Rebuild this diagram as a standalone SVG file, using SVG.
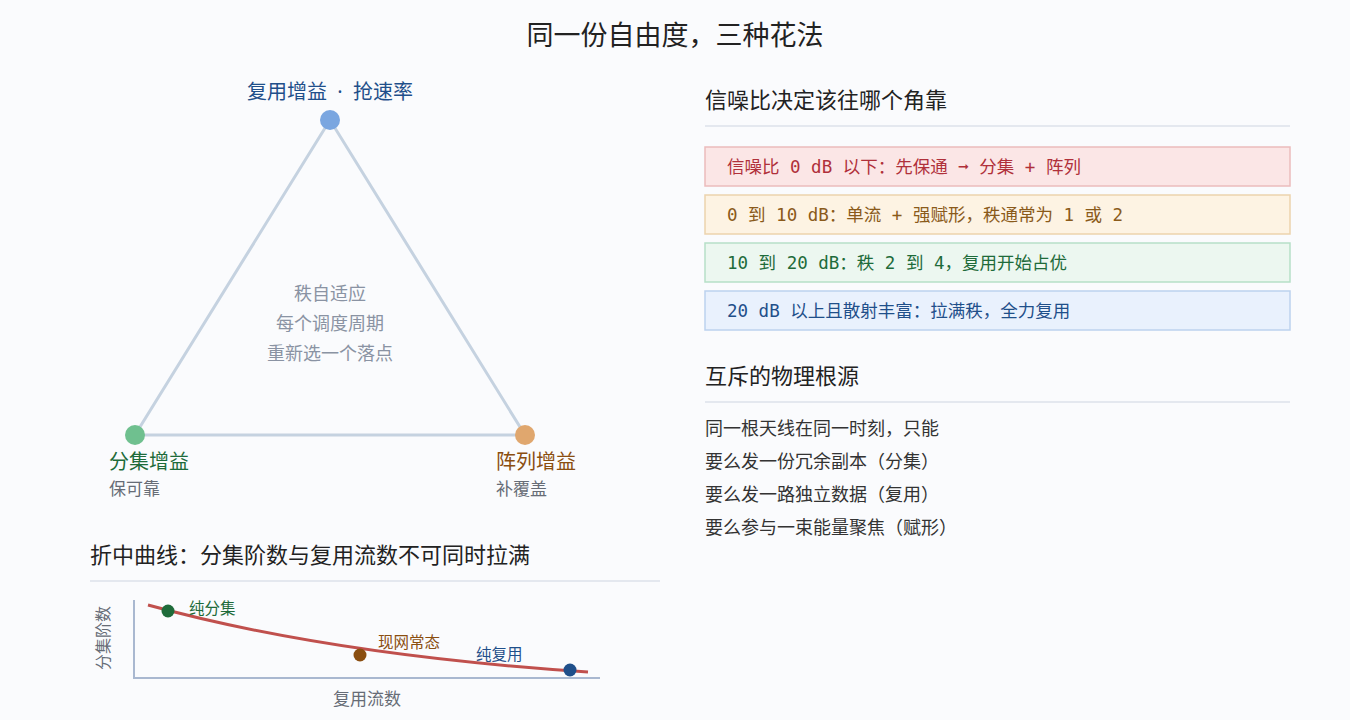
<svg xmlns="http://www.w3.org/2000/svg" width="1350" height="720" viewBox="0 0 1350 720">
<style>
text{font-family:"Noto Sans","Noto Sans CJK SC",sans-serif}
.mono{font-family:"DejaVu Sans Mono","Noto Sans CJK SC",monospace;font-size:17.5px}
.h{font-size:22px;fill:#222}
.sub{font-size:17px;fill:#666c76}
.c{font-size:18px;fill:#8a93a3}
.body{font-size:18px;fill:#333}
.sep{stroke:#dde2ea;stroke-width:1.5}
</style>
<rect width="1350" height="720" fill="#fafbfd"/>
<text x="675" y="45" text-anchor="middle" font-size="27" fill="#222">同一份自由度，三种花法</text>
<g id="connectors" fill="none" stroke="#c5d2e0" stroke-width="3">
<polygon points="330,120 135,435 525,435"/>
</g>
<g id="center-label" text-anchor="middle">
<text class="c" x="330" y="300">秩自适应</text>
<text class="c" x="330" y="330">每个调度周期</text>
<text class="c" x="330" y="360">重新选一个落点</text>
</g>
<g id="node-mux"><circle cx="330" cy="120" r="10" fill="#7aa6e0"/><text x="330" y="99" text-anchor="middle" font-size="20" fill="#1f4f8a" xml:space="preserve">复用增益  ·  抢速率</text></g>
<g id="node-div"><circle cx="135" cy="435" r="10" fill="#6fc08f"/><text x="109" y="469" font-size="20" fill="#1e6b3a">分集增益</text><text class="sub" x="109" y="495">保可靠</text></g>
<g id="node-arr"><circle cx="525" cy="435" r="10" fill="#e0a76e"/><text x="496" y="469" font-size="20" fill="#8a4e10">阵列增益</text><text class="sub" x="496" y="495">补覆盖</text></g>

<g id="right-panel">
<text class="h" x="705" y="108">信噪比决定该往哪个角靠</text>
<line class="sep" x1="705" y1="126" x2="1290" y2="126"/>
<g id="box1"><rect x="705" y="147" width="585" height="39" fill="#fbe6e6" stroke="#ebbcbc" stroke-width="1.5"/><text class="mono" x="727" y="173" fill="#b0303a">信噪比 0 dB 以下：先保通 ➞ 分集 + 阵列</text></g>
<g id="box2"><rect x="705" y="195" width="585" height="39" fill="#fdf3e3" stroke="#ecd3ad" stroke-width="1.5"/><text class="mono" x="727" y="221" fill="#8a5a1a">0 到 10 dB：单流 + 强赋形，秩通常为 1 或 2</text></g>
<g id="box3"><rect x="705" y="243" width="585" height="39" fill="#ecf7f0" stroke="#b6e0c7" stroke-width="1.5"/><text class="mono" x="727" y="269" fill="#1e6b3a">10 到 20 dB：秩 2 到 4，复用开始占优</text></g>
<g id="box4"><rect x="705" y="291" width="585" height="39" fill="#e9f1fd" stroke="#bcd2ee" stroke-width="1.5"/><text class="mono" x="727" y="317" fill="#1f4f8a">20 dB 以上且散射丰富：拉满秩，全力复用</text></g>
<text class="h" x="705" y="384">互斥的物理根源</text>
<line class="sep" x1="705" y1="402" x2="1290" y2="402"/>
<text class="body" x="705" y="435">同一根天线在同一时刻，只能</text>
<text class="body" x="705" y="468">要么发一份冗余副本（分集）</text>
<text class="body" x="705" y="501">要么发一路独立数据（复用）</text>
<text class="body" x="705" y="534">要么参与一束能量聚焦（赋形）</text>
</g>

<g id="tradeoff">
<text class="h" x="90" y="563">折中曲线：分集阶数与复用流数不可同时拉满</text>
<line class="sep" x1="90" y1="581" x2="660" y2="581"/>
<path d="M134 600 V678 H600" fill="none" stroke="#a9b8d0" stroke-width="2"/>
<text x="109" y="638" font-size="16" fill="#666c76" text-anchor="middle" transform="rotate(-90 109 638)">分集阶数</text>
<text x="367" y="705" font-size="17" fill="#666c76" text-anchor="middle">复用流数</text>
<path d="M148 605 Q330 655 588 672" fill="none" stroke="#c0504d" stroke-width="3"/>
<circle cx="168" cy="611" r="6.5" fill="#1e6b3a"/><text x="189" y="614" font-size="15.5" fill="#1e6b3a">纯分集</text>
<circle cx="360" cy="655" r="6.5" fill="#8a4e10"/><text x="378" y="648" font-size="15.5" fill="#8a4e10">现网常态</text>
<circle cx="570" cy="670" r="6.5" fill="#1f4f8a"/><text x="476" y="660" font-size="15.5" fill="#1f4f8a">纯复用</text>
</g>
</svg>
